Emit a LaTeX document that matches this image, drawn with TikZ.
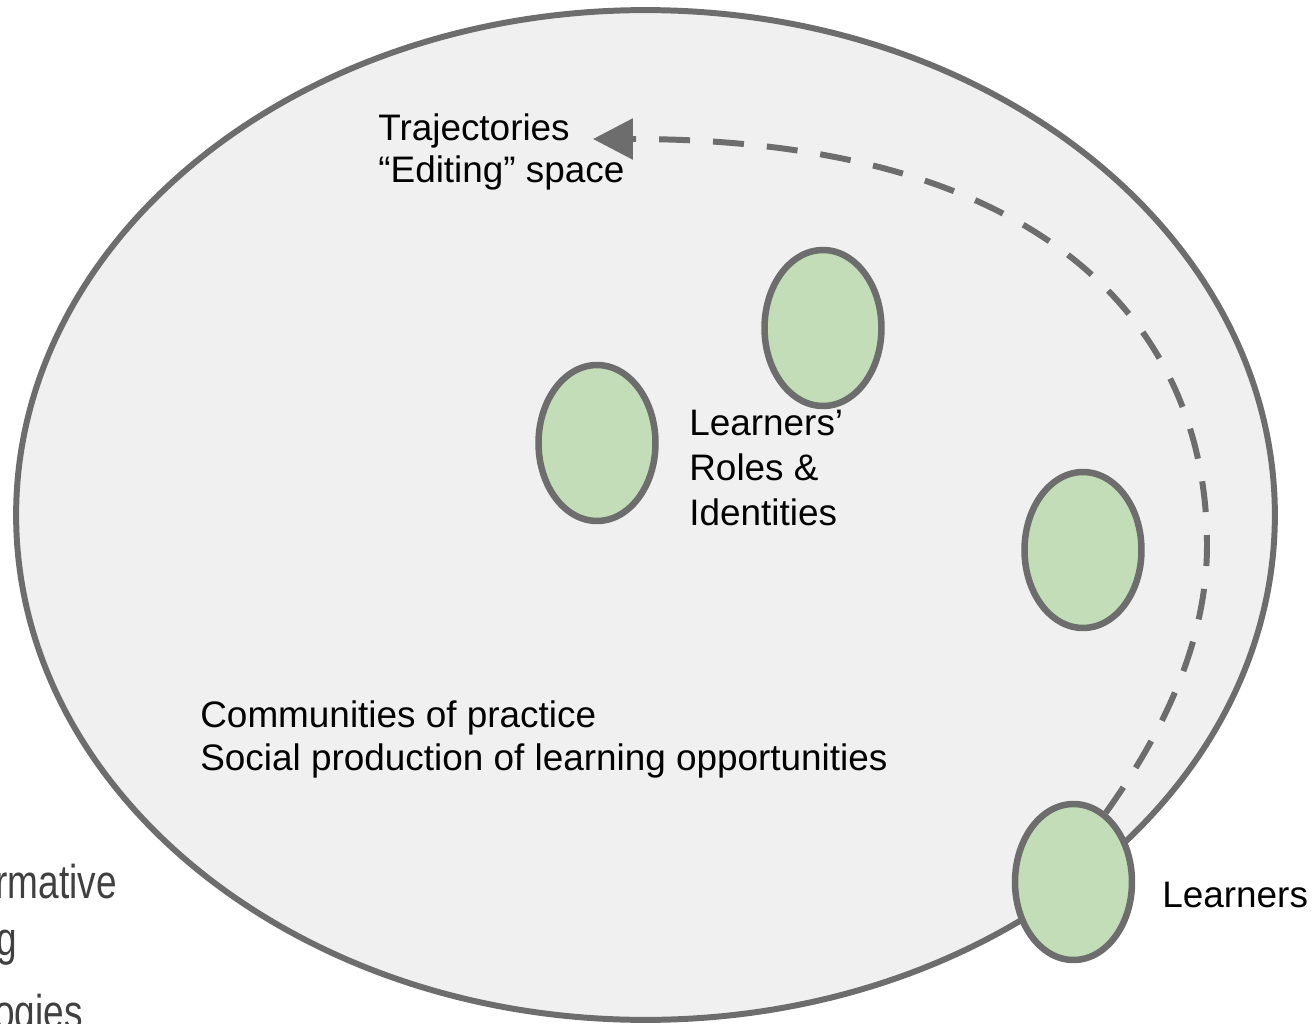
\documentclass[tikz,border=0pt]{standalone}
\usepackage{fontspec}
\setmainfont{Liberation Sans}
\newfontfamily\slidefont[FakeStretch=0.78]{Liberation Sans}
\usetikzlibrary{shapes,arrows.meta,positioning}
\definecolor{ovalgray}{HTML}{F0F0F0}
\definecolor{edgegray}{HTML}{6D6D6D}
\definecolor{idgreen}{HTML}{C3DDB8}

\begin{document}
\begin{tikzpicture}[x=0.02cm,y=-0.02cm,
  >={Triangle[length=0.8cm,width=0.8cm]},
  community/.style={ellipse,draw=edgegray,fill=ovalgray,line width=3.4pt,
    minimum width=25.18cm,minimum height=20.2cm,inner sep=0pt},
  learner/.style={ellipse,draw=edgegray,fill=idgreen,line width=3.7pt,
    minimum width=2.34cm,minimum height=3.12cm,inner sep=0pt},
  caption/.style={anchor=base west,inner sep=0pt,align=left,
    font=\fontsize{21}{24.4}\selectfont},
  slidetext/.style={anchor=base east,inner sep=0pt,text=black!75,
    font=\slidefont\fontsize{27}{32}\selectfont},
  trajectory/.style={draw=edgegray,line width=3.4pt,
    dash pattern=on 0.62cm off 0.46cm},
]
  \useasboundingbox (0,0) rectangle (1316,1024);

  % text of the slide behind
  \node[slidetext] (sl1) at (117,898) {rmative};
  \node[slidetext] (sl2) at (17,955) {g};
  \node[slidetext] (sl3) at (83,1028) {ogies};

  \node[community] (cop) at (645.5,515) {};

  \node[learner] (id1) at (823,328) {};
  \node[learner] (id2) at (597,443) {};
  \node[learner] (id3) at (1083,550) {};
  \node[learner] (lrn) at (1073.5,882) {};

  % base anchor sits on the last line
  \node[caption] (trj) at (378,183) {Trajectories\\“Editing” space};
  \node[caption,font=\fontsize{21}{25.5}\selectfont] (rid) at (689,525)
    {Learners’\\Roles \&\\Identities};
  \node[caption] (cpt) at (200,770)
    {Communities of practice\\Social production of learning opportunities};
  \node[caption] (lrntxt) at (1162,907) {Learners};

  \coordinate (tip) at (593,139);
  \draw [trajectory,->] (lrn.65)
    .. controls (1165,730) and (1207,640) .. (1207,545)
    .. controls (1207,330) and (1050,139) .. (tip);
\end{tikzpicture}
\end{document}
